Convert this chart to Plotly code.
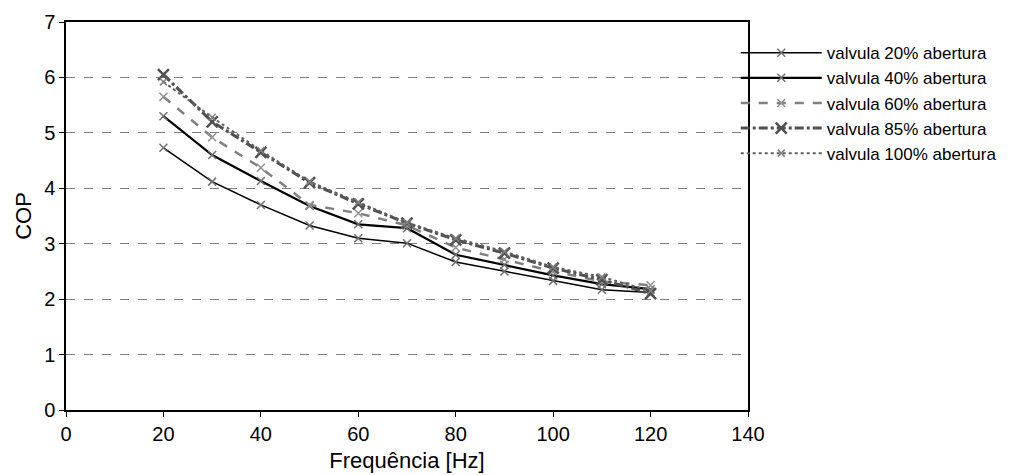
import plotly.graph_objects as go

freq = [20, 30, 40, 50, 60, 70, 80, 90, 100, 110, 120]
cop_20 = [4.73, 4.12, 3.70, 3.33, 3.10, 3.01, 2.67, 2.50, 2.33, 2.17, 2.12]
cop_40 = [5.30, 4.60, 4.13, 3.68, 3.35, 3.28, 2.80, 2.62, 2.43, 2.27, 2.18]
cop_60 = [5.65, 4.92, 4.37, 3.70, 3.55, 3.33, 2.93, 2.72, 2.50, 2.32, 2.25]
cop_85 = [6.05, 5.20, 4.65, 4.10, 3.72, 3.37, 3.07, 2.83, 2.56, 2.35, 2.10]
cop_100 = [5.92, 5.28, 4.68, 4.12, 3.75, 3.38, 3.10, 2.86, 2.58, 2.40, 2.15]

names = ["valvula 20% abertura", "valvula 40% abertura", "valvula 60% abertura",
         "valvula 85% abertura", "valvula 100% abertura"]

styles = [
    dict(color="#000000", width=1.5, dash="solid", mcol="#707070", msym="x-thin-open", msize=8, mw=1.5),
    dict(color="#000000", width=2.2, dash="solid", mcol="#707070", msym="x-thin-open", msize=8, mw=1.5),
    dict(color="#808080", width=2.5, dash="dash", mcol="#909090", msym="x-thin-open", msize=8, mw=1.5),
    dict(color="#505050", width=3, dash="dashdot", mcol="#505050", msym="x-thin-open", msize=11, mw=2.5),
    dict(color="#606060", width=2, dash="dot", mcol="#808080", msym="x-thin-open", msize=7, mw=1.5),
]

fig = go.Figure()
for name, ys, s in zip(names, [cop_20, cop_40, cop_60, cop_85, cop_100], styles):
    fig.add_trace(go.Scatter(
        x=freq, y=ys, name=name, mode="lines+markers",
        line=dict(color=s["color"], width=s["width"], dash=s["dash"]),
        marker=dict(symbol=s["msym"], size=s["msize"], color=s["mcol"],
                    line=dict(color=s["mcol"], width=s["mw"])),
    ))

fig.update_layout(
    width=1020, height=467,
    margin=dict(l=58, r=280, t=14, b=65, autoexpand=False),
    paper_bgcolor="white", plot_bgcolor="white",
    font=dict(family="Liberation Sans, Arial, sans-serif", size=20, color="#000"),
    showlegend=True,
    legend=dict(x=0.982, y=0.966, xanchor="left", yanchor="top",
                font=dict(size=17), tracegroupgap=0, itemwidth=81,
                bgcolor="rgba(0,0,0,0)"),
)
fig.update_xaxes(
    range=[0, 140], tickvals=[0, 20, 40, 60, 80, 100, 120, 140],
    showline=True, linecolor="#000", linewidth=1.5, mirror=True,
    ticks="outside", ticklen=5, tickcolor="#000", showgrid=False, zeroline=False,
    automargin=False, tickfont=dict(size=20),
    title=dict(text="Frequência [Hz]", font=dict(size=22), standoff=9),
)
fig.update_yaxes(
    range=[0, 7], tickvals=[0, 1, 2, 3, 4, 5, 6, 7],
    showline=True, linecolor="#000", linewidth=1.5, mirror=True,
    ticks="outside", ticklen=5, tickcolor="#000",
    showgrid=True, gridcolor="#808080", griddash="dash", gridwidth=1.2,
    zeroline=False, automargin=False, tickfont=dict(size=20),
    title=dict(text="COP", font=dict(size=22), standoff=6),
)

fig.write_html("out.html")
